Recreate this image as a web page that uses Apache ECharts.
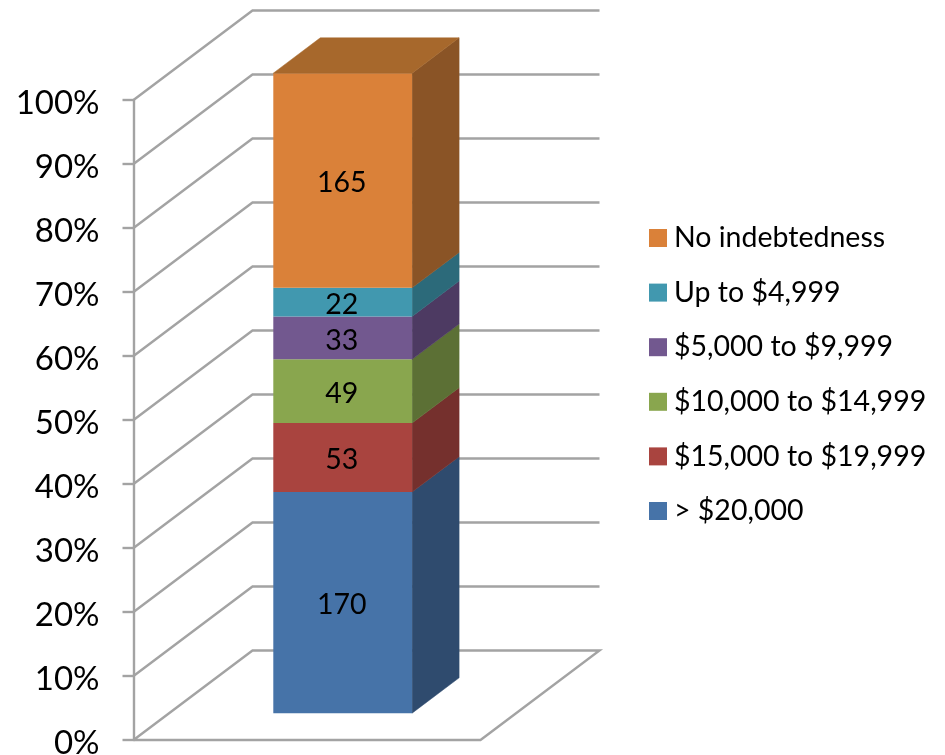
<!DOCTYPE html>
<html>
<head>
<meta charset="utf-8">
<style>html,body{margin:0;padding:0;background:#fff}#c{width:945px;height:755px}</style>
<script src="https://cdn.jsdelivr.net/npm/echarts@6/dist/echarts.min.js"></script>
</head>
<body>
<div id="c"></div>
<script>
var categories = ['> $20,000', '$15,000 to $19,999', '$10,000 to $14,999', '$5,000 to $9,999', 'Up to $4,999', 'No indebtedness'];
var counts = [170, 53, 49, 33, 22, 165];
var ticks = [0, 10, 20, 30, 40, 50, 60, 70, 80, 90, 100];
var frontColors = ['#4673A8', '#A9443F', '#89A64E', '#72588F', '#4198AF', '#DA8139'];
var sideColors = ['#2F4B6E', '#75302D', '#5C7035', '#4D3A62', '#2C6A7A', '#8A5426'];
var topColor = '#A7682C';
var gridColor = '#A3A3A3';
var FONT = 'Lato, "Open Sans", sans-serif';

var WALL_DX = 119, WALL_DY = -89.5;
var BAR_NEAR = 0.3, BAR_FAR = 0.695, BAR_W = 0.4;

var total = counts.reduce(function (a, b) { return a + b; }, 0);

function renderWall(params, api) {
  var p = api.coord([0, api.value(0)]);
  var band = api.size([1, 0])[0];
  var x0 = p[0] - band / 2;
  var x1 = x0 + WALL_DX;
  var y1 = p[1] + WALL_DY;
  var pts = [[x0, p[1]], [x1, y1], [x1 + band, y1]];
  if (api.value(0) === 0) { pts.push([x0 + band, p[1]], [x0, p[1]]); }
  return {
    type: 'polyline',
    shape: { points: pts },
    style: { stroke: gridColor, lineWidth: 2.4, fill: null, lineJoin: 'miter' },
    silent: true
  };
}

function renderSeg(idx) {
  return function (params, api) {
    var low = api.coord([0, api.value(1)]);
    var high = api.coord([0, api.value(2)]);
    var band = api.size([1, 0])[0];
    var w = band * BAR_W;
    var ox = WALL_DX * BAR_NEAR, oy = WALL_DY * BAR_NEAR;
    var dx = WALL_DX * (BAR_FAR - BAR_NEAR), dy = WALL_DY * (BAR_FAR - BAR_NEAR);
    var xl = low[0] + ox - w / 2, xr = xl + w;
    var yb = low[1] + oy, yt = high[1] + oy;
    var kids = [
      { type: 'polygon', shape: { points: [[xr, yb], [xr + dx, yb + dy], [xr + dx, yt + dy], [xr, yt]] },
        style: { fill: sideColors[idx], stroke: sideColors[idx], lineWidth: 0.5 } },
      { type: 'rect', shape: { x: xl, y: yt, width: w, height: yb - yt },
        style: { fill: frontColors[idx] } }
    ];
    if (idx === counts.length - 1) {
      kids.push({ type: 'polygon', shape: { points: [[xl, yt], [xl + dx, yt + dy], [xr + dx, yt + dy], [xr, yt]] },
        style: { fill: topColor, stroke: topColor, lineWidth: 0.5 } });
    }
    kids.push({ type: 'text', z2: 10,
      style: { text: String(api.value(3)), x: (xl + xr) / 2 - 1, y: (yb + yt) / 2 + 2.5,
        textAlign: 'center', textVerticalAlign: 'middle', fill: '#000', font: '28.5px ' + FONT } });
    return { type: 'group', children: kids };
  };
}

var series = [{
  name: 'walls', type: 'custom', renderItem: renderWall, silent: true, clip: false,
  encode: { x: 1, y: 0 },
  data: ticks.map(function (t) { return [t, 0]; }), z: 1
}];
var cum = 0;
categories.forEach(function (name, i) {
  var a = cum / total * 100;
  cum += counts[i];
  var b = cum / total * 100;
  series.push({
    name: name, type: 'custom', renderItem: renderSeg(i), clip: false, z: 3,
    itemStyle: { color: frontColors[i] },
    encode: { x: 0, y: [1, 2] },
    data: [[0, a, b, counts[i]]]
  });
});

var chart = echarts.init(document.getElementById('c'), null, { renderer: 'canvas' });
chart.setOption({
  animation: false,
  backgroundColor: '#fff',
  tooltip: { show: false },
  grid: { left: 133.5, top: 100, width: 347, height: 640, outerBoundsMode: 'none' },
  legend: {
    orient: 'vertical', left: 649, top: 220,
    data: categories.slice().reverse(),
    icon: 'rect', itemWidth: 18, itemHeight: 18, itemGap: 18.6,
    selectedMode: false,
    textStyle: { fontFamily: FONT, fontSize: 28.5, color: '#000', lineHeight: 34, padding: [2, 0, 0, 2] },
    padding: 0
  },
  xAxis: { type: 'category', data: [''], show: false },
  yAxis: {
    type: 'value', min: 0, max: 100, interval: 10,
    axisLine: { show: true, lineStyle: { color: gridColor, width: 2.4 } },
    axisTick: { show: true, length: 11, lineStyle: { color: gridColor, width: 2.4 } },
    axisLabel: { formatter: '{value}%', fontFamily: FONT, fontSize: 33, color: '#000', margin: 34, verticalAlign: 'top', lineHeight: 7 },
    splitLine: { show: false }
  },
  series: series
});
</script>
</body>
</html>
